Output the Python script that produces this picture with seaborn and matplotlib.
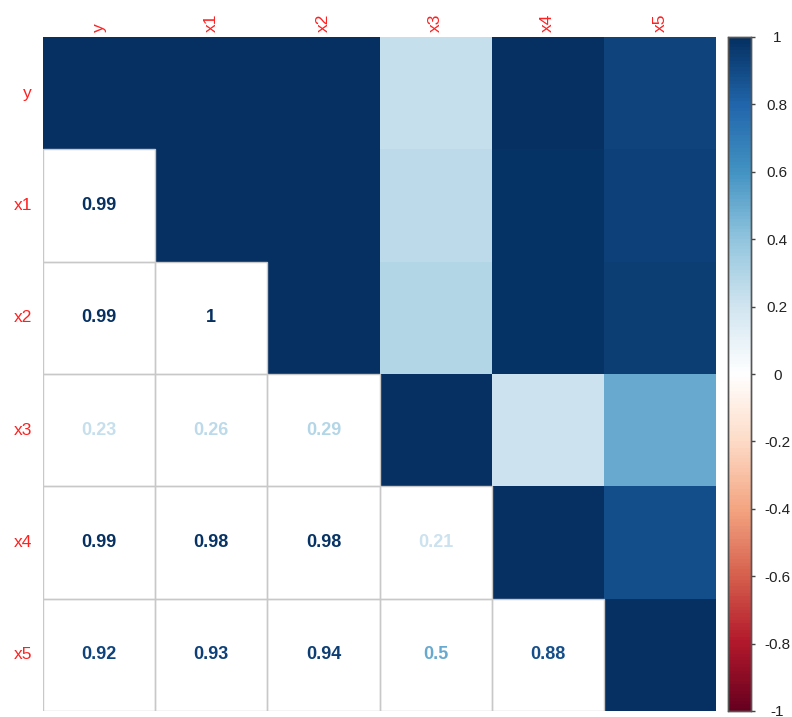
import numpy as np
import pandas as pd
import matplotlib
matplotlib.use("Agg")
import matplotlib.pyplot as plt
from matplotlib.colors import LinearSegmentedColormap, Normalize
from matplotlib.patches import Rectangle
import seaborn as sns

variables = ["y", "x1", "x2", "x3", "x4", "x5"]
# lower-triangle correlations, row by row (row i vs columns 0..i-1)
corr_x1 = [0.99]
corr_x2 = [0.99, 1.00]
corr_x3 = [0.23, 0.26, 0.29]
corr_x4 = [0.99, 0.98, 0.98, 0.21]
corr_x5 = [0.92, 0.93, 0.94, 0.50, 0.88]
lower_rows = [[], corr_x1, corr_x2, corr_x3, corr_x4, corr_x5]
cbar_ticks = [-1, -0.8, -0.6, -0.4, -0.2, 0, 0.2, 0.4, 0.6, 0.8, 1]
cbar_labels = ["-1", "-0.8", "-0.6", "-0.4", "-0.2", "0", "0.2", "0.4", "0.6", "0.8", "1"]

n = len(variables)
M = np.eye(n)
for i, row in enumerate(lower_rows):
    for j, v in enumerate(row):
        M[i, j] = v
        M[j, i] = v
df = pd.DataFrame(M, index=variables, columns=variables)

rdbu = ["#67001F", "#B2182B", "#D6604D", "#F4A582", "#FDDBC7", "#FFFFFF",
        "#D1E5F0", "#92C5DE", "#4393C3", "#2166AC", "#053061"]
cmap = LinearSegmentedColormap.from_list("corrRdBu", rdbu, N=200)
norm = Normalize(-1, 1)

fig = plt.figure(figsize=(7.92, 7.17), dpi=100)
ax = fig.add_axes([43/792, 1-711/717, (716-43)/792, (711-37)/717])
cax = fig.add_axes([728/792, 1-711/717, (751-728)/792, (711-37)/717])

mask = np.tril(np.ones((n, n), dtype=bool), k=-1)
sns.heatmap(df, mask=mask, cmap=cmap, vmin=-1, vmax=1, ax=ax, cbar_ax=cax,
            square=False, linewidths=0, cbar_kws={"ticks": cbar_ticks})

# lower triangle: grid cells + numbers
for i in range(n):
    for j in range(i):
        v = M[i, j]
        ax.add_patch(Rectangle((j, i), 1, 1, facecolor="none", edgecolor="#C8C8C8", lw=1, zorder=3))
        ax.text(j + 0.5, i + 0.5, f"{v:g}", ha="center", va="center",
                color=cmap(norm(v)), fontsize=13, fontweight="bold",
                family="Liberation Sans", zorder=4)

ax.set_xlim(0, n)
ax.set_ylim(n, 0)
ax.xaxis.tick_top()
ax.set_xticks(np.arange(n) + 0.5)
ax.set_xticklabels(variables, rotation=90, color="#FF2020", fontsize=12.5, family="Liberation Sans")
ax.set_yticks(np.arange(n) + 0.5)
ax.set_yticklabels(variables, rotation=0, color="#FF2020", fontsize=12.5, family="Liberation Sans")
ax.tick_params(axis="x", length=0, pad=3.6)
ax.tick_params(axis="y", length=0, pad=8)
ax.set_xlabel("")
ax.set_ylabel("")

cax.set_yticks(cbar_ticks)
cax.set_yticklabels(cbar_labels, fontsize=11, family="Liberation Sans", color="#222222", ha="center")
cax.tick_params(axis="y", length=3, width=1, color="#444444", pad=16)
for s in cax.spines.values():
    s.set_visible(True)
    s.set_edgecolor("#555555")
    s.set_linewidth(1)

fig.savefig("out.png", dpi=100)
